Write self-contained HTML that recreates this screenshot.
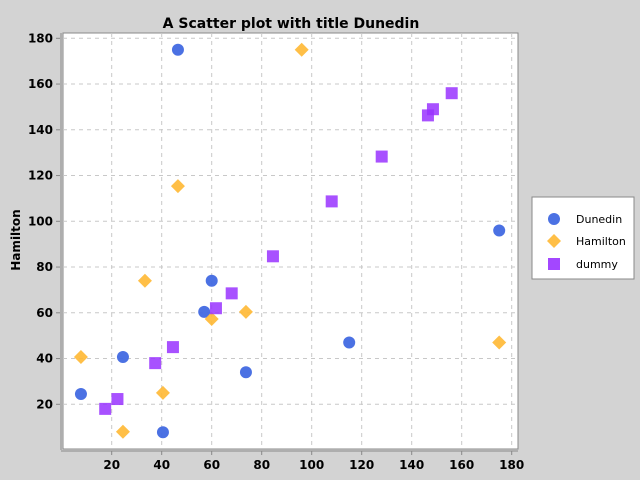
<!DOCTYPE html>
<html><head><meta charset="utf-8"><style>
body{margin:0;background:#d3d3d3;font-family:"Liberation Sans","DejaVu Sans",sans-serif}
svg{display:block}
</style></head><body>
<svg width="640" height="480" xmlns="http://www.w3.org/2000/svg">
<rect width="640" height="480" fill="#d3d3d3"/>
<text x="291" y="28" text-anchor="middle" font-family="DejaVu Sans, sans-serif" font-weight="bold" font-size="14">A Scatter plot with title Dunedin</text>
<rect x="63" y="33" width="455" height="416" fill="#fff" stroke="#888"/>
<g id="grid"></g>
<g id="axes"></g>
<g id="marks"></g>
<text transform="translate(20,240) rotate(-90)" text-anchor="middle" font-family="DejaVu Sans, sans-serif" font-weight="bold" font-size="12">Hamilton</text>
<g>
<rect x="532" y="197" width="102" height="82" fill="#fff" stroke="#888"/>
<g><circle cx="554" cy="219" r="6" fill="#4169e1" opacity="0.95"/><text x="576" y="223" font-family="DejaVu Sans, sans-serif" font-size="11">Dunedin</text></g>
<g><polygon points="554,234 561,241 554,248 547,241" fill="#ffb833" opacity="0.9"/><text x="576" y="245" font-family="DejaVu Sans, sans-serif" font-size="11">Hamilton</text></g>
<g><rect x="548" y="258" width="12" height="12" fill="#9933ff" opacity="0.9"/><text x="576" y="268" font-family="DejaVu Sans, sans-serif" font-size="11">dummy</text></g>
</g>
</svg>
<script>
const xTicks=[20,40,60,80,100,120,140,160,180];
const yTicks=[20,40,60,80,100,120,140,160,180];
const dunedinX=[46.5,7.7,24.5,40.5,57,60,73.7,115,175];
const dunedinY=[175,24.5,40.7,7.8,60.4,74,34,47,96];
const hamiltonX=[96,46.5,7.7,33.3,24.5,40.5,60,73.7,175];
const hamiltonY=[175,115.4,40.7,74,8,25,57.3,60.4,47];
const dummyX=[17.4,22.3,37.4,44.5,61.7,68,84.5,108,128,146.5,148.5,156];
const dummyY=[18,22.3,38,45,62,68.5,84.7,108.7,128.3,146.3,149,156];
const sx=v=>61.7+v*2.5;
const sy=v=>404.3-(v-20)*2.2875;
const NS="http://www.w3.org/2000/svg";
function mk(tag,attrs,parent){const e=document.createElementNS(NS,tag);for(const k in attrs)e.setAttribute(k,attrs[k]);document.getElementById(parent).appendChild(e);return e;}
xTicks.forEach(t=>{
 const g=mk('line',{x1:sx(t),x2:sx(t),y1:33,y2:449,stroke:'#c8c8c8','stroke-dasharray':'4,4'},'grid');
 
 
 mk('line',{x1:sx(t),x2:sx(t),y1:451,y2:455,stroke:'#888'},'axes');
 const l=mk('text',{x:sx(t),y:469,'text-anchor':'middle','font-family':'DejaVu Sans, sans-serif','font-weight':'bold','font-size':'12'},'axes');
 l.textContent=t;
 
 
});
yTicks.forEach(t=>{
 const g=mk('line',{x1:63,x2:518,y1:sy(t),y2:sy(t),stroke:'#c8c8c8','stroke-dasharray':'4,4'},'grid');
 
 
 mk('line',{x1:56,x2:60,y1:sy(t),y2:sy(t),stroke:'#888'},'axes');
 const l=mk('text',{x:53,y:sy(t)+4,'text-anchor':'end','font-family':'DejaVu Sans, sans-serif','font-weight':'bold','font-size':'12'},'axes');
 l.textContent=t;
 
 
});
mk('line',{x1:61,x2:61,y1:33,y2:450,stroke:'#888'},'axes');
mk('line',{x1:61,x2:518,y1:451,y2:451,stroke:'#888'},'axes');
dunedinX.forEach((x,i)=>{
 const c=mk('circle',{cx:sx(x),cy:sy(dunedinY[i]),r:6,fill:'#4169e1',opacity:0.95},'marks');
 
 
});
hamiltonX.forEach((x,i)=>{
 const cx=sx(x),cy=sy(hamiltonY[i]);
 const p=mk('polygon',{points:`${cx},${cy-7} ${cx+7},${cy} ${cx},${cy+7} ${cx-7},${cy}`,fill:'#ffb833',opacity:0.9},'marks');
 
 
});
dummyX.forEach((x,i)=>{
 const r=mk('rect',{x:sx(x)-6,y:sy(dummyY[i])-6,width:12,height:12,fill:'#9933ff',opacity:0.85},'marks');
 
 
});
</script>
</body></html>
